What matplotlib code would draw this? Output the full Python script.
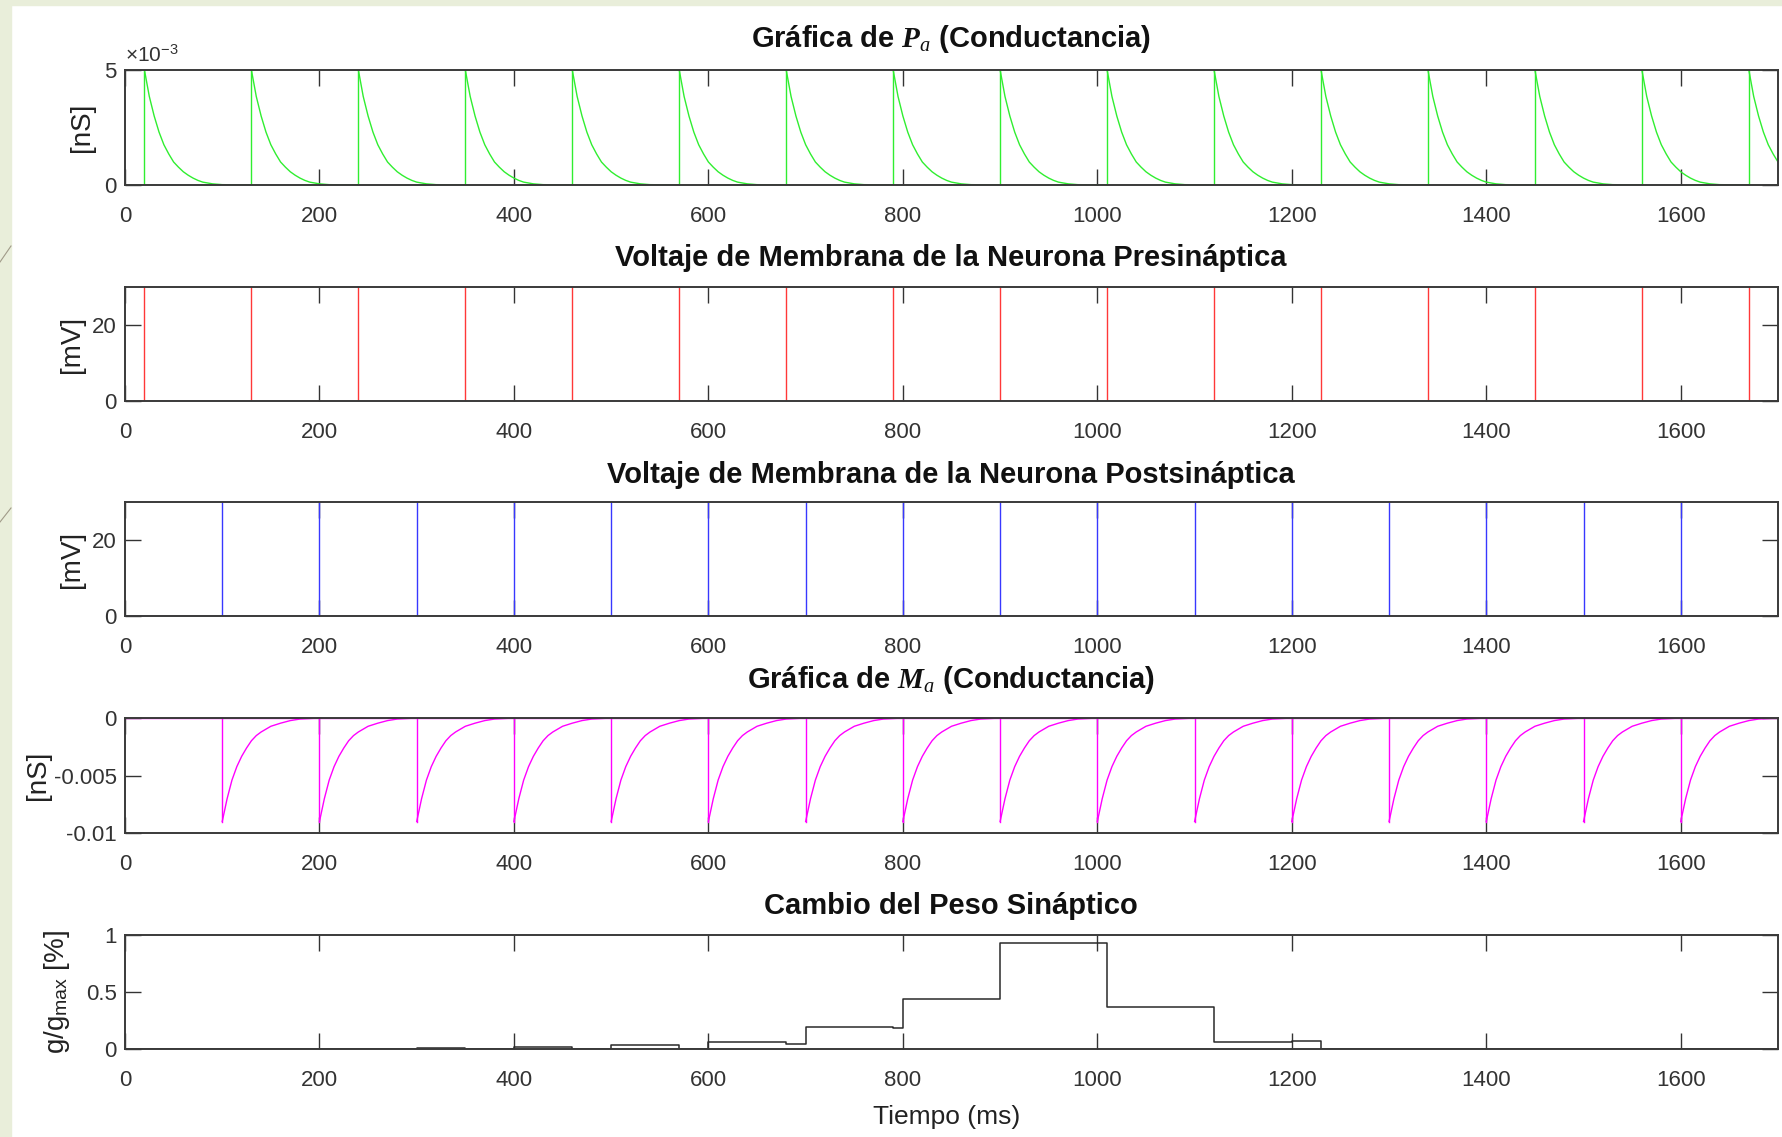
import matplotlib
matplotlib.use("Agg")
import matplotlib.pyplot as plt
import matplotlib.font_manager as fm
from matplotlib.patches import Rectangle
from matplotlib.lines import Line2D

# ---------------- data ----------------
pre_spikes = [20, 130, 240, 350, 460, 570, 680, 790, 900, 1010, 1120, 1230, 1340, 1450, 1560, 1670]
post_spikes = [100, 200, 300, 400, 500, 600, 700, 800, 900, 1000, 1100, 1200, 1300, 1400, 1500, 1600]

p_peak = 0.005            # nS
p_offsets = [0, 5, 10, 15, 20, 25, 30, 35, 40, 45, 50, 55, 60, 70, 80, 110]
p_profile = [1.0, 0.77, 0.60, 0.46, 0.35, 0.27, 0.20, 0.155, 0.115, 0.085, 0.06, 0.04, 0.025, 0.01, 0.003, 0.0]

m_peak = -0.009           # nS
m_offsets = [0, 5, 10, 15, 20, 25, 30, 35, 40, 50, 60, 70, 80, 100]
m_profile = [1.0, 0.78, 0.60, 0.47, 0.37, 0.29, 0.22, 0.17, 0.135, 0.08, 0.05, 0.025, 0.01, 0.0]

spike_peak = 30           # mV (spikes reach the top of the axes)
rest_v = 0                # mV

weight_t = [0, 100, 130, 200, 240, 300, 350, 400, 460, 500, 570, 600, 680, 700, 790, 800,
            900, 1010, 1120, 1200, 1230, 1300, 1340, 1400, 1450, 1700]
weight_v = [0, 0.003, 0, 0.004, 0, 0.006, 0, 0.015, 0, 0.035, 0, 0.063, 0.04, 0.19, 0.18, 0.44,
            0.93, 0.37, 0.063, 0.07, 0, 0.002, 0, 0.002, 0, 0]

x_ticks = [0, 200, 400, 600, 800, 1000, 1200, 1400, 1600]
t_end = 1700

plt.rcParams["mathtext.fontset"] = "custom"
plt.rcParams["mathtext.rm"] = "Liberation Sans"
plt.rcParams["mathtext.it"] = "Liberation Serif:italic"
plt.rcParams["mathtext.bf"] = "Liberation Serif:italic:bold"

titles = [r"Gráfica de $\mathbf{P}_{\mathit{a}}$ (Conductancia)",
          "Voltaje de Membrana de la Neurona Presináptica",
          "Voltaje de Membrana de la Neurona Postsináptica",
          r"Gráfica de $\mathbf{M}_{\mathit{a}}$ (Conductancia)",
          "Cambio del Peso Sináptico"]
ylabels = ["[nS]", "[mV]", "[mV]", "[nS]", r"g/g$_\mathregular{max}$ [%]"]

# ---------------- style ----------------
names = {f.name for f in fm.fontManager.ttflist}
narrow = "Liberation Sans Narrow" if "Liberation Sans Narrow" in names else "Liberation Sans"

W, H = 1782, 1137
fig = plt.figure(figsize=(W / 100, H / 100), dpi=100, facecolor="white")

# slide background strips
fig.patches.append(Rectangle((0, 0), 11 / W, 1, transform=fig.transFigure, color="#E9EEDA", zorder=0))
fig.patches.append(Rectangle((0, 1 - 5 / H), 1, 5 / H, transform=fig.transFigure, color="#E9EEDA", zorder=0))
for (x0, y0, x1, y1) in [(0, 262, 11, 246), (0, 522, 11, 508)]:
    fig.lines.append(Line2D([x0 / W, x1 / W], [1 - y0 / H, 1 - y1 / H], transform=fig.transFigure,
                            color="#a09a88", lw=0.8))

left_px, right_px = 125, 1778
boxes = [(70, 185), (287, 401), (502, 616), (718, 833), (935, 1049)]
title_y = [39, 258, 475, 680, 906]
ylabel_x = [82, 72, 72, 38, 57]

tick_col = "#333333"
axes = []
for i, (top, bot) in enumerate(boxes):
    ax = fig.add_axes([left_px / W, 1 - bot / H, (right_px - left_px) / W, (bot - top) / H])
    ax.set_xlim(0, t_end)
    ax.set_xticks(x_ticks)
    ax.tick_params(axis="both", direction="in", top=True, right=True, length=11.5, width=1.0,
                   colors=tick_col, labelsize=16)
    ax.tick_params(axis="x", pad=15)
    ax.tick_params(axis="y", pad=6)
    for lab in ax.get_xticklabels() + ax.get_yticklabels():
        lab.set_fontfamily(narrow)
    for s in ax.spines.values():
        s.set_linewidth(1.4)
        s.set_color("#3a3a3a")
    ax.set_ylabel(ylabels[i], fontsize=20, family="Liberation Sans", color="#222222",
                  va="center", ha="center")
    ax.yaxis.set_label_coords((ylabel_x[i] - left_px) / (right_px - left_px), 0.5)
    fig.text(951 / W, 1 - title_y[i] / H, titles[i], ha="center", va="center",
             fontsize=21, fontweight="bold", family=narrow, color="#111111")
    axes.append(ax)

# Panel 1: P_a
ax = axes[0]
ax.plot([0, t_end], [0, 0], color="#30ee30", lw=1.0)
for s in pre_spikes:
    ax.plot([s, s], [0, p_peak], color="#30ee30", lw=1.0)
    ax.plot([s + o for o in p_offsets], [p_peak * f for f in p_profile], color="#30ee30", lw=1.0)
ax.set_ylim(0, 0.005)
ax.set_yticks([0, 0.005])
ax.set_yticklabels(["0", "5"], family=narrow)
ax.text(0.0, 1.04, "×10$^\\mathregular{-3}$", transform=ax.transAxes, fontsize=15, family=narrow,
        color=tick_col, ha="left", va="bottom")

# Panel 2: presynaptic voltage
ax = axes[1]
ax.plot([0, t_end], [rest_v, rest_v], color="#ff3838", lw=1.0)
for s in pre_spikes:
    ax.plot([s, s], [rest_v, spike_peak], color="#ff3838", lw=1.0)
ax.set_ylim(0, 30)
ax.set_yticks([0, 20])
ax.set_yticklabels(["0", "20"], family=narrow)

# Panel 3: postsynaptic voltage
ax = axes[2]
ax.plot([0, t_end], [rest_v, rest_v], color="#3838ff", lw=1.0)
for s in post_spikes:
    ax.plot([s, s], [rest_v, spike_peak], color="#3838ff", lw=1.0)
ax.set_ylim(0, 30)
ax.set_yticks([0, 20])
ax.set_yticklabels(["0", "20"], family=narrow)

# Panel 4: M_a
ax = axes[3]
ax.plot([0, t_end], [0, 0], color="#ff00ff", lw=1.0)
for s in post_spikes:
    ax.plot([s, s], [0, m_peak], color="#ff00ff", lw=1.0)
    ax.plot([s + o for o in m_offsets], [m_peak * f for f in m_profile], color="#ff00ff", lw=1.0)
ax.set_ylim(-0.01, 0)
ax.set_yticks([-0.01, -0.005, 0])
ax.set_yticklabels(["-0.01", "-0.005", "0"], family=narrow)

# Panel 5: weight
ax = axes[4]
ax.step(weight_t, weight_v, where="post", color="#2a2a2a", lw=1.1)
ax.set_ylim(0, 1)
ax.set_yticks([0, 0.5, 1])
ax.set_yticklabels(["0", "0.5", "1"], family=narrow)
fig.text(947 / W, 1 - 1117 / H, "Tiempo (ms)", ha="center", va="center", fontsize=19,
         family=narrow, color="#222222")

fig.savefig("out.png", dpi=100, facecolor="white")
